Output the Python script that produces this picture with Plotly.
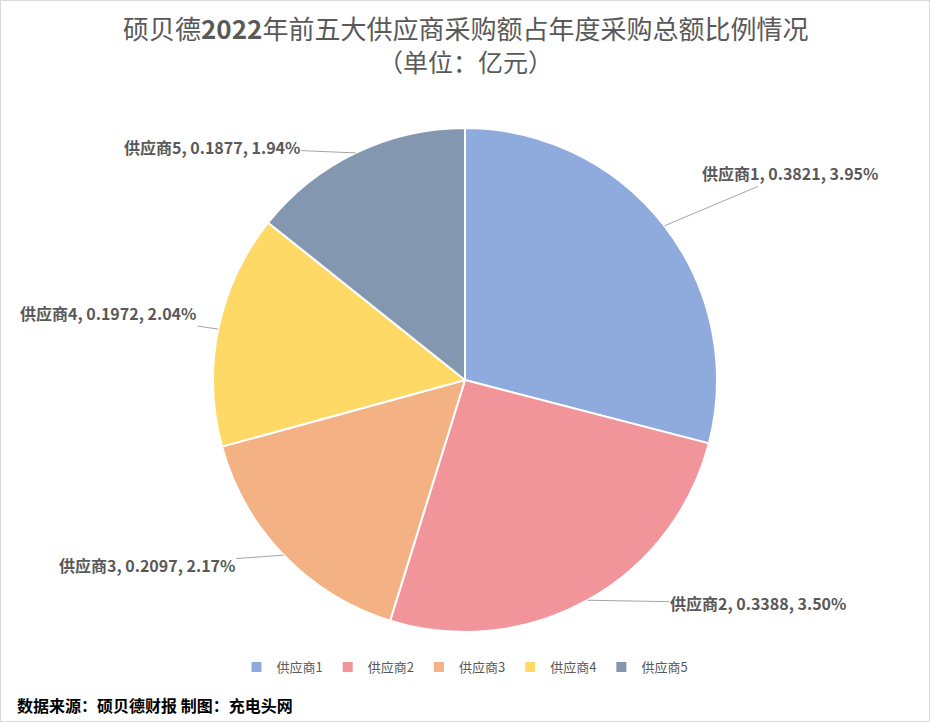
import math
import plotly.graph_objects as go

# ── Data ─────────────────────────────────────────────────────────────────────
suppliers = ["供应商1", "供应商2", "供应商3", "供应商4", "供应商5"]
amounts = [0.3821, 0.3388, 0.2097, 0.1972, 0.1877]          # 亿元
share_of_total = ["3.95%", "3.50%", "2.17%", "2.04%", "1.94%"]

COLORS = ["#8FAADC", "#F1959B", "#F4B183", "#FFD966", "#8497B0"]
TEXT_COLOR = "#595959"
FONT = "Noto Sans CJK SC"

W, H = 930, 722
CX, CY, R = 465, 380, 252          # pie centre / radius in px
# label offsets (px) from the slice edge point
LABEL_OFFSETS = [(126, -53), (171, 3), (-137, 10), (-110, -16), (-144, -6)]

fig = go.Figure(go.Pie(
    labels=suppliers,
    values=amounts,
    sort=False,
    direction="clockwise",
    rotation=0,
    marker=dict(colors=COLORS, line=dict(color="white", width=2)),
    textinfo="none",
    hoverinfo="label+value",
    domain=dict(x=[(CX - R) / W, (CX + R) / W],
                y=[(H - CY - R) / H, (H - CY + R) / H]),
))

# outside labels with leader lines, placed from each slice's mid angle
total = sum(amounts)
cum = 0.0
for i, (name, v, pct) in enumerate(zip(suppliers, amounts, share_of_total)):
    mid = (cum + v / 2) / total * 2 * math.pi
    cum += v
    px_ = CX + R * math.sin(mid)
    py_ = CY - R * math.cos(mid)
    ax, ay = LABEL_OFFSETS[i]
    fig.add_annotation(
        x=px_ / W, y=1 - py_ / H, xref="paper", yref="paper",
        text=f"<b>{name}, {v:.4f}, {pct}</b>",
        showarrow=True, arrowhead=0, arrowwidth=1, arrowcolor="#A6A6A6",
        ax=ax, ay=ay, standoff=0,
        font=dict(family=FONT, size=16, color=TEXT_COLOR),
    )

# title, two lines
fig.add_annotation(
    x=0.5, y=1 - 28 / H, xref="paper", yref="paper",
    xanchor="center", yanchor="middle", showarrow=False,
    text="硕贝德<b>2022</b>年前五大供应商采购额占年度采购总额比例情况",
    font=dict(family=FONT, size=26, color=TEXT_COLOR),
)
fig.add_annotation(
    x=0.5, y=1 - 61 / H, xref="paper", yref="paper",
    xanchor="center", yanchor="middle", showarrow=False,
    text="（单位：亿元）",
    font=dict(family=FONT, size=25, color=TEXT_COLOR),
)

fig.add_annotation(
    x=15 / W, y=1 - 705 / H, xref="paper", yref="paper",
    xanchor="left", yanchor="middle", showarrow=False,
    text="<b>数据来源：硕贝德财报 制图：充电头网</b>",
    font=dict(family=FONT, size=16, color="#000000"),
)

# light border round the image
fig.add_shape(type="rect", xref="paper", yref="paper", x0=0, y0=0, x1=1, y1=1,
              line=dict(color="#D9D9D9", width=2))

fig.update_layout(
    width=W, height=H,
    margin=dict(l=0, r=0, t=0, b=0),
    paper_bgcolor="white",
    plot_bgcolor="white",
    legend=dict(
        orientation="h", x=0.5, xanchor="center", y=1 - 667 / H, yanchor="middle",
        font=dict(family=FONT, size=13, color=TEXT_COLOR),
        itemwidth=30,
    ),
    font=dict(family=FONT),
)

fig.write_html(
    "out.html",
    config={"displayModeBar": False},
    post_script="document.body.style.margin='0';document.body.style.overflow='hidden';",
)
